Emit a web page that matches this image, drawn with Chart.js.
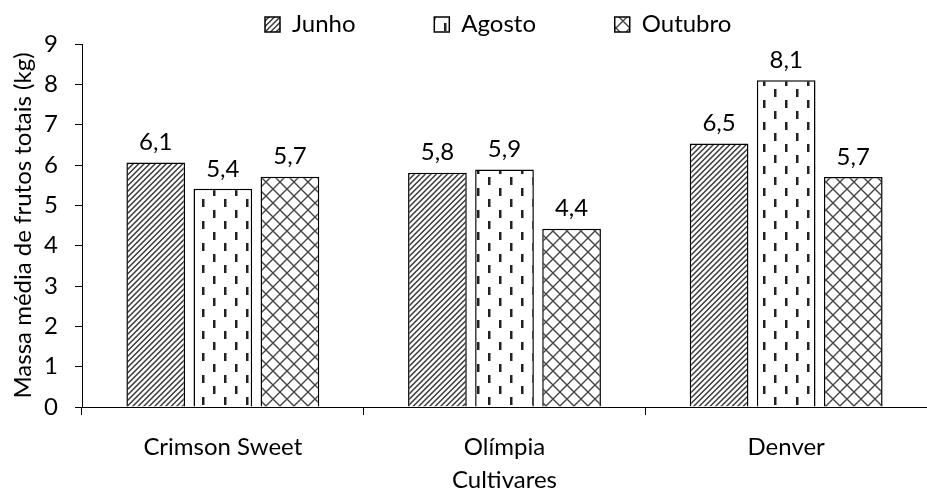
<!DOCTYPE html>
<html>
<head>
<meta charset="utf-8">
<script src="https://cdn.jsdelivr.net/npm/chart.js@4.4.1/dist/chart.umd.min.js"></script>
<style>
  body { margin: 0; background: #fff; }
  #wrap { width: 927px; height: 491px; }
</style>
</head>
<body>
<div id="wrap"><canvas id="myChart" width="927" height="491"></canvas></div>
<script>
const cultivares = ['Crimson Sweet', 'Olímpia', 'Denver'];
const junho = [6.06, 5.81, 6.53];
const agosto = [5.41, 5.89, 8.1];
const outubro = [5.71, 4.42, 5.7];
const yTicks = [0, 1, 2, 3, 4, 5, 6, 7, 8, 9];

const FONT = 'Lato';
const FSIZE = 24;

// ---- hatch patterns
function makeTile(w, h, draw){
  let c = document.createElement('canvas');
  c.width = w; c.height = h;
  let g = c.getContext('2d');
  g.fillStyle = '#fff';
  g.fillRect(0, 0, w, h);
  draw(g);
  return document.createElement('canvas').getContext('2d').createPattern(c, 'repeat');
}

const patDiag = makeTile(11, 11, function(g){
  g.strokeStyle = '#3a3a3a';
  g.lineWidth = 1.5;
  g.beginPath();
  [0, 5.5, 11, 16.5, 22].forEach(function(c){
    g.moveTo(c + 2, -2); g.lineTo(c - 13, 13);
  });
  g.stroke();
});

const patDash = makeTile(22, 22, function(g){
  g.fillStyle = '#222';
  g.fillRect(4, 1, 2.5, 8);
  g.fillRect(15, 12, 2.5, 8);
});

const patCross = makeTile(14, 14, function(g){
  g.strokeStyle = '#444';
  g.lineWidth = 1.4;
  g.beginPath();
  g.moveTo(-1, -1); g.lineTo(15, 15);
  g.moveTo(-1, 15); g.lineTo(15, -1);
  g.stroke();
});

// legend entries in the original are spread out, pad them with spaces
let measureCtx = document.createElement('canvas').getContext('2d');
measureCtx.font = FSIZE + 'px ' + FONT;
const spaceW = measureCtx.measureText(' ').width;
const legendGap = ' '.repeat(Math.round(72 / spaceW));

// ---- value labels above bars
const valueLabels = {
  id: 'valueLabels',
  afterLayout(chart){
    // legend placement as in the original
    chart.legend.left = 260;
    chart.legend.top += 2.5;
    chart.legend.bottom += 2.5;
  },
  afterDatasetsDraw(chart){
    let ctx = chart.ctx;
    ctx.save();
    ctx.font = FSIZE + 'px ' + FONT;
    ctx.fillStyle = '#000';
    ctx.textAlign = 'center';
    ctx.textBaseline = 'middle';
    chart.data.datasets.forEach(function(ds, i){
      chart.getDatasetMeta(i).data.forEach(function(bar, j){
        let txt = (Math.round(ds.data[j] * 10) / 10).toFixed(1).replace('.', ',');
        ctx.fillText(txt, bar.x, bar.y - 20);
      });
    });
    ctx.restore();
  }
};

const barStyle = {
  borderColor: '#000',
  borderWidth: 1.5,
  categoryPercentage: 0.7145,
  barPercentage: 0.875
};

const myChart = new Chart(document.getElementById('myChart'), {
  type: 'bar',
  data: {
    labels: cultivares,
    datasets: [
      Object.assign({ label: 'Junho', data: junho, backgroundColor: patDiag }, barStyle),
      Object.assign({ label: 'Agosto', data: agosto, backgroundColor: patDash }, barStyle),
      Object.assign({ label: 'Outubro', data: outubro, backgroundColor: patCross }, barStyle)
    ]
  },
  options: {
    responsive: false,
    animation: false,
    layout: { padding: { top: 5, right: -11.5, bottom: -4, left: 0 } },
    plugins: {
      legend: {
        position: 'top',
        align: 'start',
        labels: {
          color: '#000',
          font: { family: FONT, size: FSIZE },
          boxWidth: 15,
          boxHeight: 15,
          padding: 5,
          generateLabels: function(chart){
            let items = Chart.defaults.plugins.legend.labels.generateLabels(chart);
            items.forEach(function(it, i){
              if (i < items.length - 1) it.text = it.text + legendGap;
            });
            return items;
          }
        }
      },
      tooltip: { enabled: false }
    },
    scales: {
      x: {
        grid: { display: true, drawOnChartArea: false, offset: true, color: '#000', tickLength: 8 },
        border: { color: '#000', width: 1 },
        ticks: { color: '#000', font: { family: FONT, size: FSIZE }, padding: 18 },
        title: { display: true, text: 'Cultivares', color: '#000', font: { family: FONT, size: FSIZE }, padding: { top: 0, bottom: 0 } },
        afterFit: function(s){ s.height = 88; }
      },
      y: {
        min: 0, max: 9,
        afterBuildTicks: function(s){ s.ticks = yTicks.map(v => ({ value: v })); },
        grid: { display: true, drawOnChartArea: false, color: '#000', tickLength: 7 },
        border: { color: '#000', width: 1 },
        ticks: { color: '#000', font: { family: FONT, size: FSIZE }, padding: 17 },
        title: { display: true, text: 'Massa média de frutos totais (kg)', color: '#000', font: { family: FONT, size: FSIZE }, padding: { top: 9, bottom: 0 } },
        afterFit: function(s){ s.width = 82; }
      }
    }
  },
  plugins: [valueLabels]
});
</script>
</body>
</html>
